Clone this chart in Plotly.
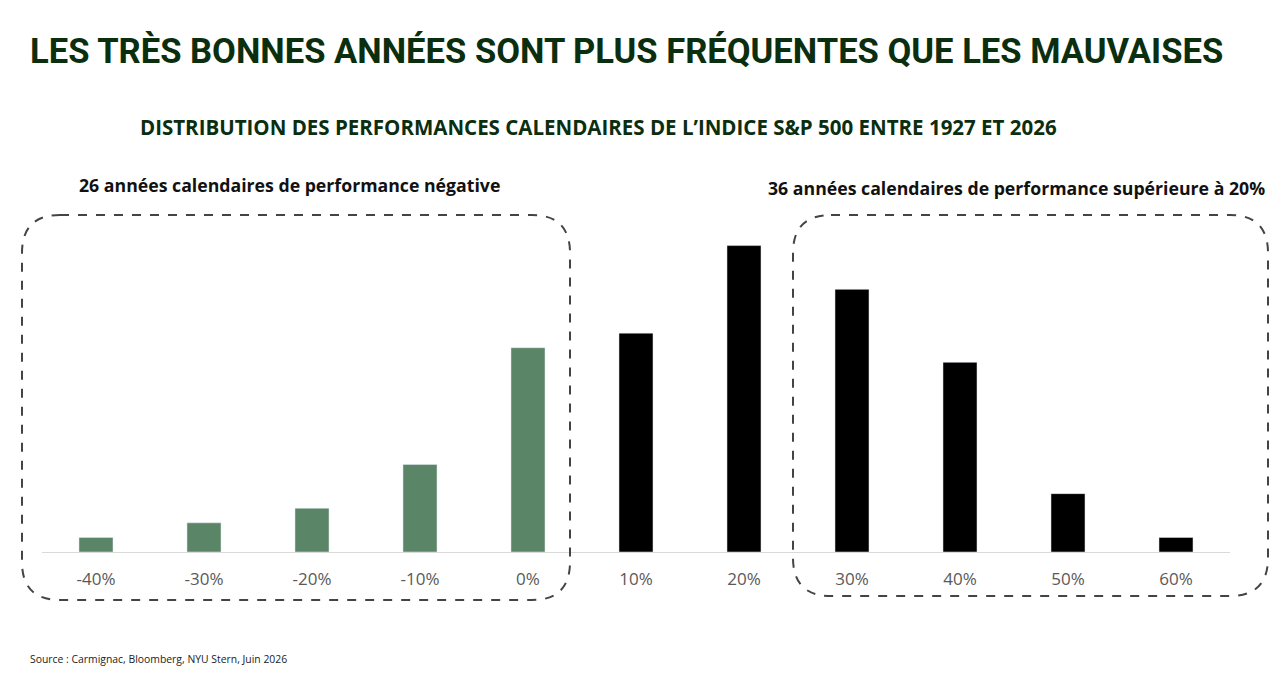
import plotly.graph_objects as go

# Distribution data (number of calendar years per performance bucket)
categories = ["-40%", "-30%", "-20%", "-10%", "0%", "10%", "20%", "30%", "40%", "50%", "60%"]
years = [1, 2, 3, 6, 14, 15, 21, 18, 13, 4, 1]
bar_colors = ["#5b8567"] * 5 + ["#000000"] * 6

OFF = 8  # page body margin
W, H = 1284 - 2 * OFF, 675 - 2 * OFF
L, R, T, B = 42 - OFF, 1230 - OFF, 231 - OFF, 552 - OFF  # plot area in figure pixels


def px_x(x):
    return (x - OFF - L) / (R - L)


def px_y(y):
    return (B - (y - OFF)) / (B - T)


def rounded_box(x0, y0, x1, y1, r):
    # rounded rectangle path in paper coords, built from screen pixel corners
    pts = [
        f"M {px_x(x0 + r)},{px_y(y0)}",
        f"L {px_x(x1 - r)},{px_y(y0)}",
        f"Q {px_x(x1)},{px_y(y0)} {px_x(x1)},{px_y(y0 + r)}",
        f"L {px_x(x1)},{px_y(y1 - r)}",
        f"Q {px_x(x1)},{px_y(y1)} {px_x(x1 - r)},{px_y(y1)}",
        f"L {px_x(x0 + r)},{px_y(y1)}",
        f"Q {px_x(x0)},{px_y(y1)} {px_x(x0)},{px_y(y1 - r)}",
        f"L {px_x(x0)},{px_y(y0 + r)}",
        f"Q {px_x(x0)},{px_y(y0)} {px_x(x0 + r)},{px_y(y0)} Z",
    ]
    return dict(type="path", xref="paper", yref="paper", path=" ".join(pts),
                line=dict(color="#444444", width=2, dash="dash"))


fig = go.Figure(go.Bar(x=categories, y=years, marker_color=bar_colors, width=0.315))

dark_green = "#0a2e0e"
fig.update_layout(
    width=W, height=H,
    margin=dict(l=L, r=W - R, t=T, b=H - B),
    plot_bgcolor="white", paper_bgcolor="white",
    showlegend=False,
    xaxis=dict(showline=True, linecolor="#d9d9d9", linewidth=1,
               ticks="outside", ticklen=12, tickcolor="rgba(0,0,0,0)",
               tickfont=dict(family="Open Sans", size=17, color="#595959")),
    yaxis=dict(visible=False, range=[0, 22]),
    shapes=[rounded_box(22, 215, 570, 600, 38), rounded_box(793, 215, 1268, 596, 38)],
)

fig.add_annotation(text="LES TRÈS BONNES ANNÉES SONT PLUS FRÉQUENTES QUE LES MAUVAISES",
                   xref="paper", yref="paper", x=px_x(28), y=px_y(51), xanchor="left", yanchor="middle",
                   showarrow=False,
                   font=dict(family="Roboto", size=34.6, color=dark_green, weight="bold"))
fig.add_annotation(text="DISTRIBUTION DES PERFORMANCES CALENDAIRES DE L’INDICE S&P 500 ENTRE 1927 ET 2026",
                   xref="paper", yref="paper", x=px_x(598), y=px_y(127), xanchor="center", yanchor="middle",
                   showarrow=False,
                   font=dict(family="Open Sans", size=20.5, color=dark_green, weight="bold"))
fig.add_annotation(text="26 années calendaires de performance négative",
                   xref="paper", yref="paper", x=px_x(77), y=px_y(185), xanchor="left", yanchor="middle",
                   showarrow=False, font=dict(family="Open Sans", size=17.7, color="#111111", weight="bold"))
fig.add_annotation(text="36 années calendaires de performance supérieure à 20%",
                   xref="paper", yref="paper", x=px_x(1267), y=px_y(188), xanchor="right", yanchor="middle",
                   showarrow=False, font=dict(family="Open Sans", size=17.7, color="#111111", weight="bold"))
fig.add_annotation(text="Source : Carmignac, Bloomberg, NYU Stern, Juin 2026",
                   xref="paper", yref="paper", x=px_x(28), y=px_y(668), xanchor="left", yanchor="bottom",
                   showarrow=False, font=dict(family="Open Sans", size=10.4, color="#222222"))

fig.write_html("out.html")
